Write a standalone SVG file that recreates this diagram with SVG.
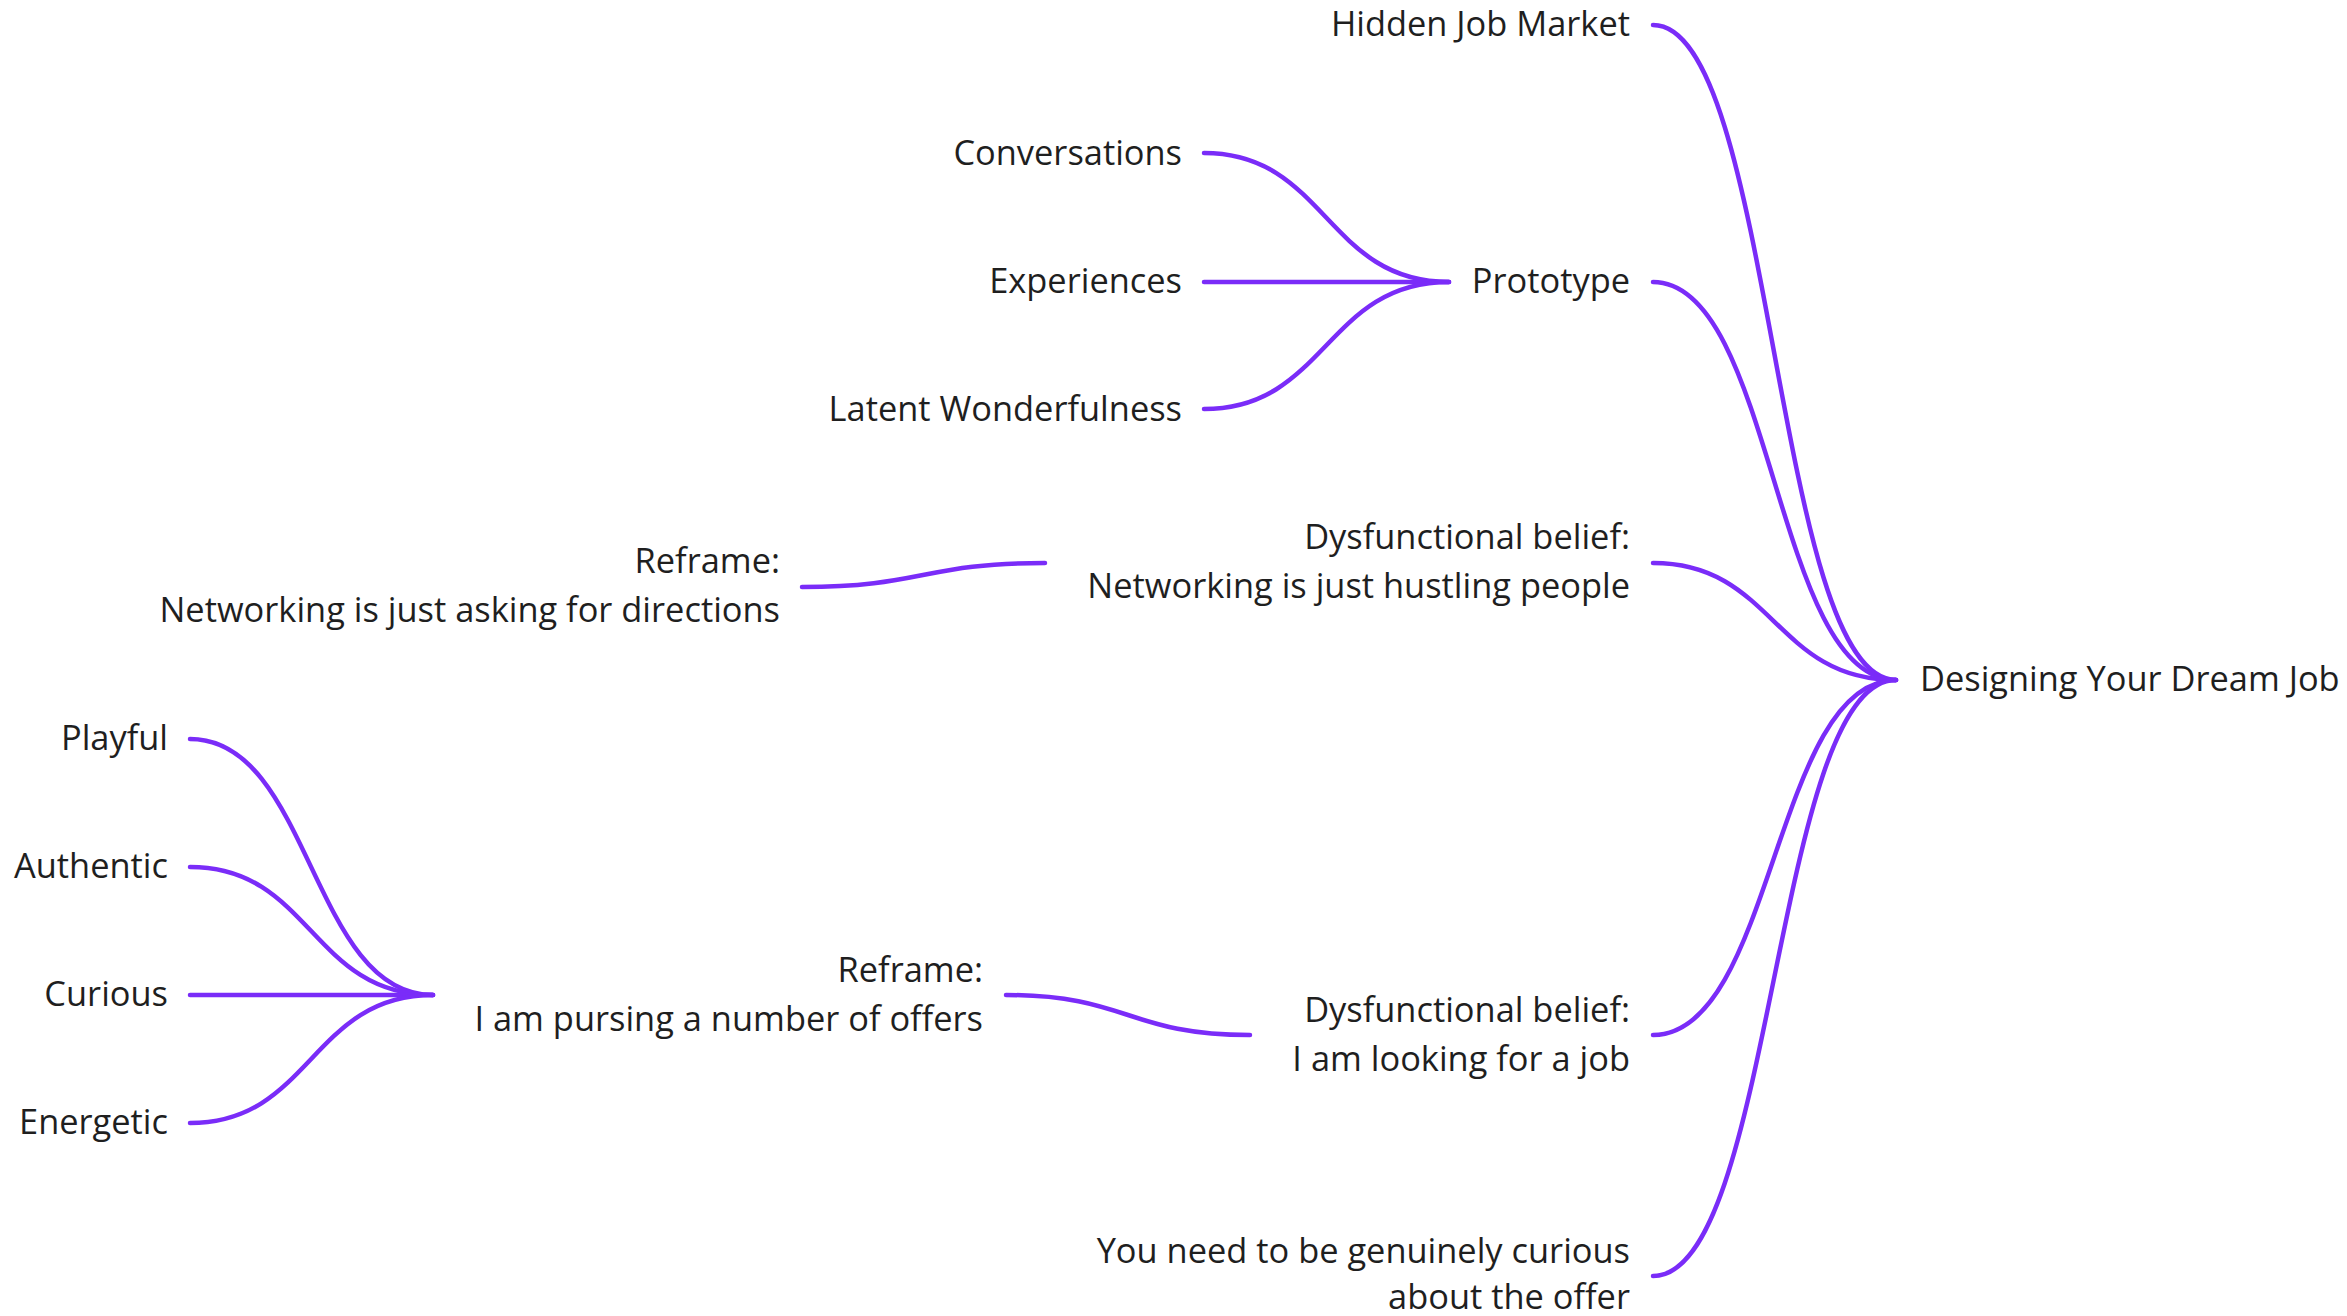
<svg xmlns="http://www.w3.org/2000/svg" width="2347" height="1316" viewBox="0 0 2347 1316">
  <style>
    .bg { fill: #ffffff; }
    .label { font-family: "Open Sans", "Noto Sans", "Liberation Sans", sans-serif; font-size: 34.4px; fill: #1f1f1f; }
    .end { text-anchor: end; }
    .start { text-anchor: start; }
    .link { fill: none; stroke: #7a2cf8; stroke-width: 4.5; stroke-linecap: round; }
  </style>
  <rect class="bg" x="0" y="0" width="2347" height="1316"/>

  <!-- connectors: cubic curves with horizontal tangents at both ends -->
  <g id="connectors">
    <!-- root to first-level topics -->
    <path class="link" d="M1653 25 C1774 25 1774 680 1896 680"/>
    <path class="link" d="M1653 282 C1774 282 1774 680 1896 680"/>
    <path class="link" d="M1653 563 C1774 563 1774 680 1896 680"/>
    <path class="link" d="M1653 1035 C1774 1035 1774 680 1896 680"/>
    <path class="link" d="M1653 1276 C1774 1276 1774 680 1896 680"/>
    <!-- Prototype to its items -->
    <path class="link" d="M1204 153 C1326 153 1326 282 1449 282"/>
    <path class="link" d="M1204 282 L1449 282"/>
    <path class="link" d="M1204 409 C1326 409 1326 282 1449 282"/>
    <!-- beliefs to reframes -->
    <path class="link" d="M802 587 C923 587 923 563 1045 563"/>
    <path class="link" d="M1006 995 C1128 995 1128 1035 1250 1035"/>
    <!-- reframe to qualities -->
    <path class="link" d="M190 739 C311 739 311 995 433 995"/>
    <path class="link" d="M190 867 C311 867 311 995 433 995"/>
    <path class="link" d="M190 995 L433 995"/>
    <path class="link" d="M190 1123 C311 1123 311 995 433 995"/>
  </g>

  <g id="root">
    <text class="label start" x="1920" y="691">Designing Your Dream Job</text>
  </g>

  <g id="hidden-job-market">
    <text class="label end" x="1630" y="36">Hidden Job Market</text>
  </g>

  <g id="prototype">
    <text class="label end" x="1630" y="293">Prototype</text>
  </g>
  <g id="conversations">
    <text class="label end" x="1182" y="165">Conversations</text>
  </g>
  <g id="experiences">
    <text class="label end" x="1182" y="293">Experiences</text>
  </g>
  <g id="latent-wonderfulness">
    <text class="label end" x="1182" y="421">Latent Wonderfulness</text>
  </g>

  <g id="belief-networking">
    <text class="label end" x="1630" y="549">Dysfunctional belief:</text>
    <text class="label end" x="1630" y="598">Networking is just hustling people</text>
  </g>
  <g id="reframe-networking">
    <text class="label end" x="780" y="573">Reframe:</text>
    <text class="label end" x="780" y="622">Networking is just asking for directions</text>
  </g>

  <g id="belief-job">
    <text class="label end" x="1630" y="1022">Dysfunctional belief:</text>
    <text class="label end" x="1630" y="1071">I am looking for a job</text>
  </g>
  <g id="reframe-offers">
    <text class="label end" x="983" y="982">Reframe:</text>
    <text class="label end" x="983" y="1031">I am pursing a number of offers</text>
  </g>

  <g id="playful">
    <text class="label end" x="168" y="750">Playful</text>
  </g>
  <g id="authentic">
    <text class="label end" x="168" y="878">Authentic</text>
  </g>
  <g id="curious">
    <text class="label end" x="168" y="1006">Curious</text>
  </g>
  <g id="energetic">
    <text class="label end" x="168" y="1134">Energetic</text>
  </g>

  <g id="genuinely-curious">
    <text class="label end" x="1630" y="1263">You need to be genuinely curious</text>
    <text class="label end" x="1630" y="1309">about the offer</text>
  </g>
</svg>
